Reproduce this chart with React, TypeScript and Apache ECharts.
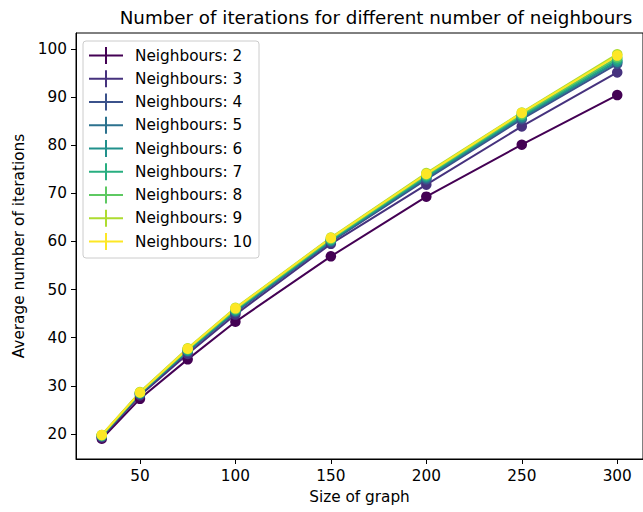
import React, { useEffect, useRef } from "react";
import * as echarts from "echarts";

// Graph sizes tested
const sizes = [30, 50, 75, 100, 150, 200, 250, 300];

// Average number of iterations per neighbour count
const n2 = [19.0, 27.3, 35.5, 43.3, 56.9, 69.3, 80.1, 90.4];
const n3 = [19.3, 28.0, 36.6, 44.8, 59.5, 71.8, 83.9, 95.1];
const n4 = [19.5, 28.3, 37.1, 45.3, 59.9, 72.9, 85.4, 96.9];
const n5 = [19.6, 28.4, 37.3, 45.5, 60.1, 73.2, 85.7, 97.3];
const n6 = [19.6, 28.4, 37.3, 45.6, 60.2, 73.4, 85.9, 97.4];
const n7 = [19.7, 28.5, 37.5, 45.8, 60.4, 73.6, 86.2, 97.8];
const n8 = [19.7, 28.6, 37.6, 45.9, 60.5, 73.8, 86.4, 98.2];
const n9 = [19.8, 28.7, 37.8, 46.2, 60.8, 74.2, 86.8, 98.9];
const n10 = [19.8, 28.6, 37.7, 46.1, 60.7, 74.0, 86.7, 98.6];

const neighbourCounts = [2, 3, 4, 5, 6, 7, 8, 9, 10];
const seriesValues = [n2, n3, n4, n5, n6, n7, n8, n9, n10];
const viridis = [
  "#440154", "#46327e", "#3b528b", "#2c728e", "#21918c",
  "#28ae80", "#5ec962", "#addc30", "#fde725",
];

const xTicks = [50, 100, 150, 200, 250, 300];
const yTicks = [20, 30, 40, 50, 60, 70, 80, 90, 100];

const FONT = "DejaVu Sans";
const FS = 15.3;

// Error-bar style legend handle: horizontal line with a vertical bar,
// plus a tiny corner dot that widens the handle to leave a gap before the text.
const CROSS_ICON =
  "path://M0,7.5 L34,7.5 L34,9.5 L0,9.5 Z M16,0 L18,0 L18,17 L16,17 Z M40.9,16.9 L41,16.9 L41,17 L40.9,17 Z";

export default function App() {
  const ref = useRef<HTMLDivElement>(null);

  useEffect(() => {
    if (!ref.current) return;
    const chart = echarts.init(ref.current, null, { renderer: "svg" });

    const series = neighbourCounts.map((n, i) => ({
      name: `Neighbours: ${n}`,
      type: "line",
      data: sizes.map((s, j) => [s, seriesValues[i][j]]),
      color: viridis[i],
      symbol: "circle",
      symbolSize: 10.5,
      showAllSymbol: true,
      lineStyle: { width: 2, color: viridis[i] },
      itemStyle: { color: viridis[i], borderWidth: 0 },
      emphasis: { disabled: true },
    }));

    chart.setOption({
      animation: false,
      grid: {
        left: 76,
        right: -4,
        top: 33,
        bottom: 53,
        show: true,
        borderColor: "#000",
        borderWidth: 1,
        backgroundColor: "transparent",
      },
      graphic: [
        {
          type: "text",
          x: 376,
          y: 17,
          style: {
            text: "Number of iterations for different number of neighbours",
            font: `18.3px ${FONT}`,
            fill: "#000",
            align: "center",
            verticalAlign: "middle",
          },
        },
      ],
      legend: {
        orient: "vertical",
        left: 83,
        top: 41,
        icon: CROSS_ICON,
        itemWidth: 41,
        itemHeight: 17,
        itemGap: 6.25,
        padding: [6, 7, 8, 6],
        backgroundColor: "rgba(255,255,255,0.8)",
        borderColor: "#cccccc",
        borderWidth: 1,
        borderRadius: 3,
        textStyle: { fontFamily: FONT, fontSize: FS, color: "#000" },
        data: neighbourCounts.map((n) => `Neighbours: ${n}`),
      },
      xAxis: {
        type: "value",
        min: 16.5,
        max: 313.5,
        name: "Size of graph",
        nameLocation: "middle",
        nameGap: 30,
        nameTextStyle: { fontFamily: FONT, fontSize: FS, color: "#000" },
        axisLine: { show: true, lineStyle: { color: "#000", width: 1 } },
        axisTick: {
          show: true,
          length: 5,
          inside: false,
          customValues: xTicks,
          lineStyle: { color: "#000", width: 1 },
        },
        axisLabel: {
          customValues: xTicks,
          margin: 9,
          fontFamily: FONT,
          fontSize: FS,
          color: "#000",
        },
        splitLine: { show: false },
      },
      yAxis: {
        type: "value",
        min: 14.8,
        max: 103.3,
        name: "Average number of iterations",
        nameLocation: "middle",
        nameGap: 49,
        nameTextStyle: { fontFamily: FONT, fontSize: FS, color: "#000" },
        axisLine: { show: true, lineStyle: { color: "#000", width: 1 } },
        axisTick: {
          show: true,
          length: 5,
          inside: false,
          customValues: yTicks,
          lineStyle: { color: "#000", width: 1 },
        },
        axisLabel: {
          customValues: yTicks,
          margin: 9,
          fontFamily: FONT,
          fontSize: FS,
          color: "#000",
        },
        splitLine: { show: false },
      },
      series,
    });

    return () => chart.dispose();
  }, []);

  return (
    <div
      ref={ref}
      style={{ position: "absolute", left: 0, top: 0, width: 643, height: 512, background: "#fff" }}
    />
  );
}
